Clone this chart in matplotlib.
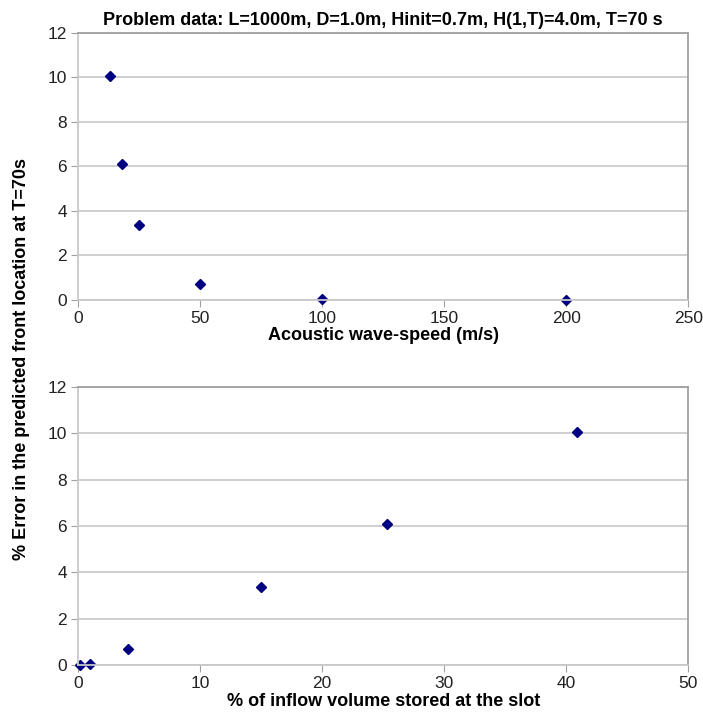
import matplotlib.pyplot as plt
from matplotlib import font_manager

# data
wave_speed = [13, 18, 25, 50, 100, 200]
err_top = [10.05, 6.1, 3.38, 0.7, 0.05, 0.0]
slot_storage = [0.15, 1.0, 4.1, 15.0, 25.3, 40.9]
err_bottom = [0.0, 0.05, 0.7, 3.38, 6.1, 10.05]

y_ticks = [0, 2, 4, 6, 8, 10, 12]
x_ticks_top = [0, 50, 100, 150, 200, 250]
x_ticks_bottom = [0, 10, 20, 30, 40, 50]

names = {f.name for f in font_manager.fontManager.ttflist}
narrow = 'Liberation Sans Narrow' if 'Liberation Sans Narrow' in names else 'Liberation Sans'

plt.rcParams['font.family'] = ['Liberation Sans', 'DejaVu Sans']

fig = plt.figure(figsize=(7.03, 7.17), dpi=100)
ax1 = fig.add_axes([0.111, 0.582, 0.868, 0.372])
ax2 = fig.add_axes([0.111, 0.0725, 0.868, 0.3875])

def style(ax, xticks, xmax):
    ax.set_xlim(0, xmax)
    ax.set_ylim(0, 12)
    ax.set_xticks(xticks)
    ax.set_yticks(y_ticks)
    ax.yaxis.grid(True, color='#cccccc', lw=1.3)
    ax.set_axisbelow(True)
    ax.spines['left'].set_color('#c8c8c8')
    ax.spines['bottom'].set_color('#c8c8c8')
    ax.spines['top'].set_color('#a0a0a0')
    ax.spines['right'].set_color('#a0a0a0')
    for s in ax.spines.values():
        s.set_linewidth(1.3)
    ax.tick_params(direction='out', length=5, color='#a0a0a0', labelsize=12.5,
                   labelcolor='#222222', pad=3)

ax1.plot(wave_speed, err_top, 'D', color='#000080', ms=5, clip_on=False)
style(ax1, x_ticks_top, 250)
ax1.set_xlabel('Acoustic wave-speed (m/s)', fontsize=13, fontweight='bold', labelpad=1)
ax1.set_title('Problem data: L=1000m, D=1.0m, Hinit=0.7m, H(1,T)=4.0m, T=70 s',
              fontsize=13, fontweight='bold', family=narrow, pad=6)

ax2.plot(slot_storage, err_bottom, 'D', color='#000080', ms=5, clip_on=False)
style(ax2, x_ticks_bottom, 50)
ax2.set_xlabel('% of inflow volume stored at the slot', fontsize=13, fontweight='bold', labelpad=1)

fig.text(0.03, 0.5, '% Error in the predicted front location at T=70s', rotation=90,
         ha='center', va='center', fontsize=13, fontweight='bold')

fig.savefig('out.png', dpi=100)
